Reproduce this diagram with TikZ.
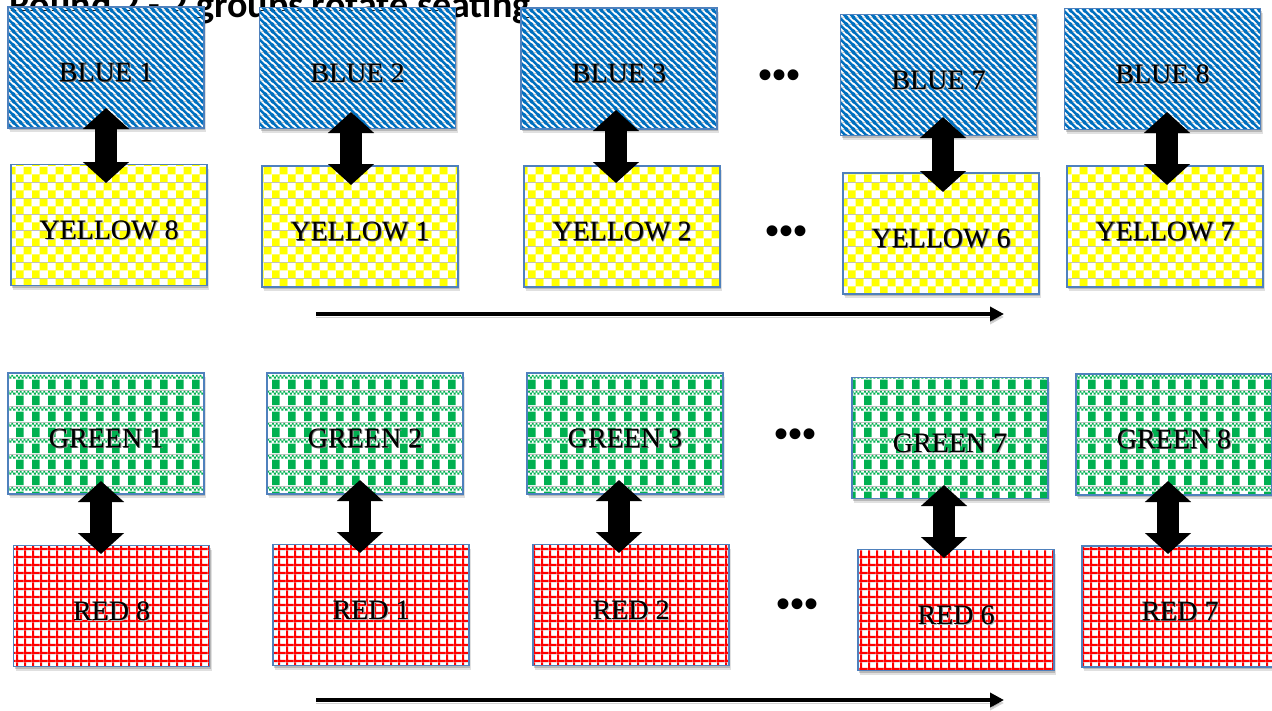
\documentclass[tikz,border=0pt]{standalone}
\usepackage{fontspec}
\setmainfont{Liberation Serif}
\newfontfamily\titlefont{Carlito}
\newfontfamily\dotfont{Liberation Sans}
\usetikzlibrary{arrows.meta,patterns,shadows}

\definecolor{pblue}{RGB}{0,112,192}
\definecolor{pyellow}{RGB}{255,255,0}
\definecolor{pgreen}{RGB}{0,176,80}
\definecolor{pred}{RGB}{255,0,0}
\definecolor{boxline}{RGB}{79,129,189}

% label text with a soft shadow
\newcommand\shadowtext[1]{%
  \makebox[0pt][l]{\hspace{1.2pt}\raisebox{-1.2pt}{\color{black!30}#1}}%
  \makebox[0pt][l]{\hspace{0.4pt}\raisebox{-0.4pt}{\color{black!70}#1}}#1}

% wide downward diagonal stripes
\pgfdeclarepatterninherentlycolored{bluestripes}{\pgfpointorigin}{\pgfpoint{7pt}{7pt}}{\pgfpoint{7pt}{7pt}}{%
  \pgfsetfillcolor{white}\pgfpathrectangle{\pgfpointorigin}{\pgfpoint{7pt}{7pt}}\pgfusepath{fill}%
  \pgfsetstrokecolor{pblue}\pgfsetlinewidth{2.8pt}%
  \pgfpathmoveto{\pgfpoint{-1pt}{8pt}}\pgfpathlineto{\pgfpoint{8pt}{-1pt}}%
  \pgfpathmoveto{\pgfpoint{-1pt}{1pt}}\pgfpathlineto{\pgfpoint{1pt}{-1pt}}%
  \pgfpathmoveto{\pgfpoint{6pt}{8pt}}\pgfpathlineto{\pgfpoint{8pt}{6pt}}%
  \pgfusepath{stroke}}

% small checkerboard
\pgfdeclarepatterninherentlycolored{yellowcheck}{\pgfpointorigin}{\pgfpoint{16pt}{16pt}}{\pgfpoint{16pt}{16pt}}{%
  \pgfsetfillcolor{white}\pgfpathrectangle{\pgfpointorigin}{\pgfpoint{16pt}{16pt}}\pgfusepath{fill}%
  \pgfsetfillcolor{pyellow}%
  \pgfpathrectangle{\pgfpoint{0pt}{0pt}}{\pgfpoint{8pt}{8pt}}%
  \pgfpathrectangle{\pgfpoint{8pt}{8pt}}{\pgfpoint{8pt}{8pt}}%
  \pgfusepath{fill}}

% plaid: fine checker band above a row of blocks
\pgfdeclarepatterninherentlycolored{greenplaid}{\pgfpointorigin}{\pgfpoint{16pt}{16pt}}{\pgfpoint{16pt}{16pt}}{%
  \pgfsetfillcolor{white}\pgfpathrectangle{\pgfpointorigin}{\pgfpoint{16pt}{16pt}}\pgfusepath{fill}%
  \pgfsetfillcolor{pgreen}%
  \pgfpathrectangle{\pgfpoint{0pt}{14pt}}{\pgfpoint{2pt}{2pt}}%
  \pgfpathrectangle{\pgfpoint{4pt}{14pt}}{\pgfpoint{2pt}{2pt}}%
  \pgfpathrectangle{\pgfpoint{8pt}{14pt}}{\pgfpoint{2pt}{2pt}}%
  \pgfpathrectangle{\pgfpoint{12pt}{14pt}}{\pgfpoint{2pt}{2pt}}%
  \pgfpathrectangle{\pgfpoint{2pt}{12pt}}{\pgfpoint{2pt}{2pt}}%
  \pgfpathrectangle{\pgfpoint{6pt}{12pt}}{\pgfpoint{2pt}{2pt}}%
  \pgfpathrectangle{\pgfpoint{10pt}{12pt}}{\pgfpoint{2pt}{2pt}}%
  \pgfpathrectangle{\pgfpoint{14pt}{12pt}}{\pgfpoint{2pt}{2pt}}%
  \pgfpathrectangle{\pgfpoint{0pt}{1pt}}{\pgfpoint{8pt}{10pt}}%
  \pgfusepath{fill}}

% red grid
\pgfdeclarepatterninherentlycolored{redgrid}{\pgfpointorigin}{\pgfpoint{8.2pt}{8.2pt}}{\pgfpoint{8.2pt}{8.2pt}}{%
  \pgfsetfillcolor{white}\pgfpathrectangle{\pgfpointorigin}{\pgfpoint{8.2pt}{8.2pt}}\pgfusepath{fill}%
  \pgfsetfillcolor{pred}%
  \pgfpathrectangle{\pgfpoint{0pt}{0pt}}{\pgfpoint{2.4pt}{8.2pt}}%
  \pgfpathrectangle{\pgfpoint{0pt}{0pt}}{\pgfpoint{8.2pt}{2.4pt}}%
  \pgfusepath{fill}}

\begin{document}
\begin{tikzpicture}[x=1pt,y=-1pt,
  seat/.style={rectangle, draw=boxline, line width=1.5pt,
    minimum width=196pt, minimum height=121pt, inner sep=0pt, outer sep=0pt,
    font=\fontsize{28}{30}\selectfont, text height=28.5pt, text depth=0pt,
    drop shadow={shadow xshift=2pt, shadow yshift=-4pt, opacity=0.12, fill=black},
    drop shadow={shadow xshift=1pt, shadow yshift=-2pt, opacity=0.18, fill=black}},
  bluebox/.style={seat, pattern=bluestripes},
  yellowbox/.style={seat, pattern=yellowcheck},
  greenbox/.style={seat, pattern=greenplaid},
  redbox/.style={seat, pattern=redgrid},
  swap/.style={line width=22pt,
    {Triangle[width=45pt,length=21pt]}-{Triangle[width=45pt,length=21pt]}},
  flow/.style={line width=4.5pt, -{Triangle[width=14pt,length=14pt]},
    preaction={draw=black, opacity=0.18, transform canvas={yshift=-3pt}}},
  more/.style={font=\dotfont\fontsize{40}{40}\selectfont, inner sep=0pt}]

\useasboundingbox (0,0) rectangle (1272,710);

% heading, partly hidden behind the first row
\node[anchor=base west, inner sep=0pt, font=\titlefont\bfseries\fontsize{38}{40}\selectfont]
  (title) at (9,17.5) {Round 2 - 2 groups rotate seating};

% first group pair
\node[bluebox] (b1) at (106,67.5) {\shadowtext{BLUE 1}};
\node[bluebox] (b2) at (357.5,68) {\shadowtext{BLUE 2}};
\node[bluebox] (b3) at (619,68.5) {\shadowtext{BLUE 3}};
\node[bluebox] (b7) at (938.5,75) {\shadowtext{BLUE 7}};
\node[bluebox] (b8) at (1162.5,69) {\shadowtext{BLUE 8}};

\node[yellowbox] (y8) at (109,225) {\shadowtext{YELLOW 8}};
\node[yellowbox] (y1) at (360,226.5) {\shadowtext{YELLOW 1}};
\node[yellowbox] (y2) at (622,226.5) {\shadowtext{YELLOW 2}};
\node[yellowbox] (y6) at (941,233.5) {\shadowtext{YELLOW 6}};
\node[yellowbox] (y7) at (1165,226.5) {\shadowtext{YELLOW 7}};

% second group pair
\node[greenbox] (g1) at (106,433.5) {\shadowtext{GREEN 1}};
\node[greenbox] (g2) at (365,433.5) {\shadowtext{GREEN 2}};
\node[greenbox] (g3) at (625,433.5) {\shadowtext{GREEN 3}};
\node[greenbox] (g7) at (950,438) {\shadowtext{GREEN 7}};
\node[greenbox] (g8) at (1174,434.5) {\shadowtext{GREEN 8}};

\node[redbox] (r8) at (111.5,606) {\shadowtext{RED 8}};
\node[redbox] (r1) at (371,605) {\shadowtext{RED 1}};
\node[redbox] (r2) at (631,605) {\shadowtext{RED 2}};
\node[redbox] (r6) at (956,610) {\shadowtext{RED 6}};
\node[redbox] (r7) at (1180,606.5) {\shadowtext{RED 7}};

% ellipses between the listed seats
\node[more] (m1) at (779,79) {•••};
\node[more] (m2) at (786,235) {•••};
\node[more] (m3) at (795,438) {•••};
\node[more] (m4) at (797,608) {•••};

% partner swaps
\draw[swap] ([xshift=0pt,yshift=20pt]b1.south) -- ([xshift=-3pt,yshift=-18.5pt]y8.north);
\draw[swap] ([xshift=-6.5pt,yshift=16.5pt]b2.south) -- ([xshift=-9pt,yshift=-19pt]y1.north);
\draw[swap] ([xshift=-3pt,yshift=19pt]b3.south) -- ([xshift=-6pt,yshift=-17pt]y2.north);
\draw[swap] ([xshift=4.5pt,yshift=18.5pt]b7.south) -- ([xshift=2pt,yshift=-19pt]y6.north);
\draw[swap] ([xshift=4.5pt,yshift=17.5pt]b8.south) -- ([xshift=2pt,yshift=-19pt]y7.north);

\draw[swap] ([xshift=-5pt,yshift=13pt]g1.south) -- ([xshift=-10.5pt,yshift=-8.5pt]r8.north);
\draw[swap] ([xshift=-5pt,yshift=14pt]g2.south) -- ([xshift=-11pt,yshift=-8.5pt]r1.north);
\draw[swap] ([xshift=-6pt,yshift=14pt]g3.south) -- ([xshift=-12pt,yshift=-8.5pt]r2.north);
\draw[swap] ([xshift=-6pt,yshift=13.5pt]g7.south) -- ([xshift=-12pt,yshift=-8.5pt]r6.north);
\draw[swap] ([xshift=-6pt,yshift=14pt]g8.south) -- ([xshift=-12pt,yshift=-8pt]r7.north);

% rotation direction
\coordinate (f1s) at (316,314);
\coordinate (f1e) at (1004,314);
\coordinate (f2s) at (316,700);
\coordinate (f2e) at (1004,700);
\draw[flow] (f1s) -- (f1e);
\draw[flow] (f2s) -- (f2e);
\end{tikzpicture}
\end{document}
